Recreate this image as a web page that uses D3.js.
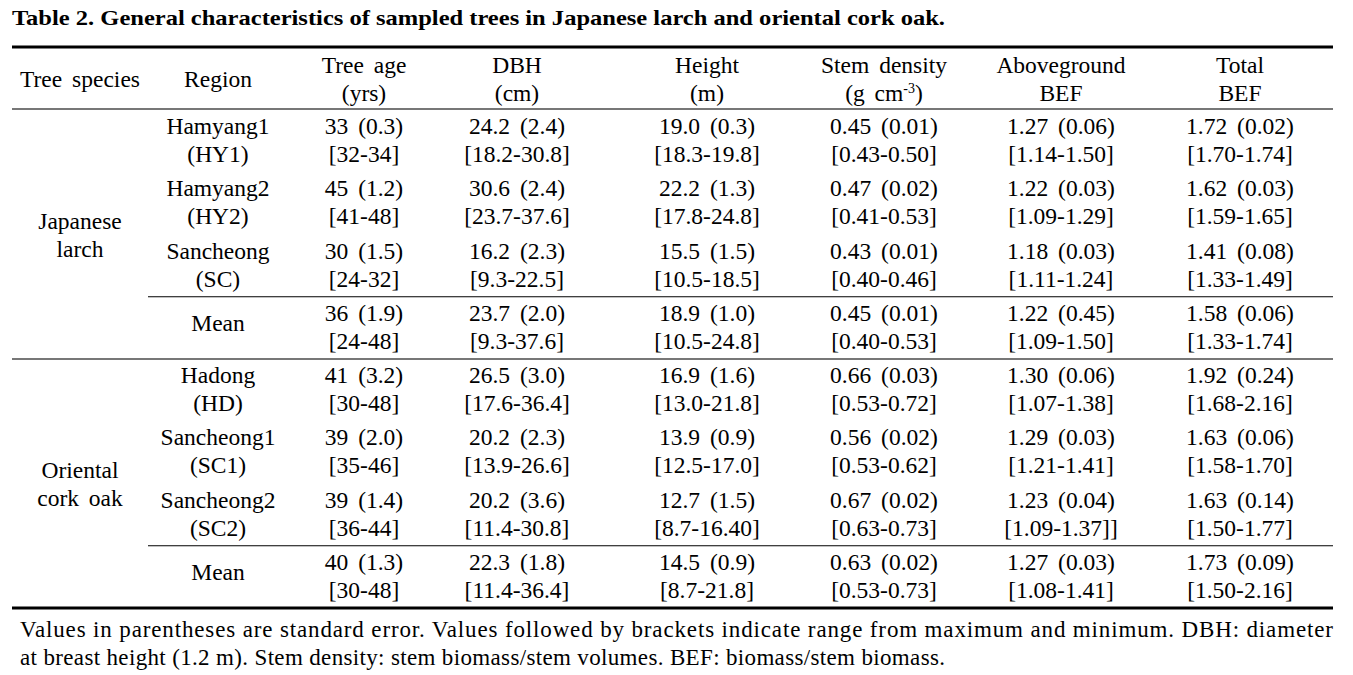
<!doctype html>
<html lang="en">
<head>
  <meta charset="utf-8">
  <title>Table 2</title>
  <script src="https://d3js.org/d3.v7.min.js"></script>
  <style>
    body { margin: 0; background: #fff; }
    svg text { font-family: "Liberation Serif", "Times New Roman", serif; fill: #000; }
  </style>
</head>
<body>
  <div id="table"></div>
  <script type="text/javascript">
	// table content
	var title = "Table 2. General characteristics of sampled trees in Japanese larch and oriental cork oak.";
	var headers = [["Tree species"], ["Region"], ["Tree age", "(yrs)"], ["DBH", "(cm)"], ["Height", "(m)"],
				   ["Stem density", "(g cm^-3^)"], ["Aboveground", "BEF"], ["Total", "BEF"]];
	var species = [["Japanese", "larch"], ["Oriental", "cork oak"]];
	var regions = [["Hamyang1", "(HY1)"], ["Hamyang2", "(HY2)"], ["Sancheong", "(SC)"], ["Mean"],
				   ["Hadong", "(HD)"], ["Sancheong1", "(SC1)"], ["Sancheong2", "(SC2)"], ["Mean"]];
	var treeAge = [["33 (0.3)", "[32-34]"], ["45 (1.2)", "[41-48]"], ["30 (1.5)", "[24-32]"], ["36 (1.9)", "[24-48]"],
				   ["41 (3.2)", "[30-48]"], ["39 (2.0)", "[35-46]"], ["39 (1.4)", "[36-44]"], ["40 (1.3)", "[30-48]"]];
	var dbh = [["24.2 (2.4)", "[18.2-30.8]"], ["30.6 (2.4)", "[23.7-37.6]"], ["16.2 (2.3)", "[9.3-22.5]"], ["23.7 (2.0)", "[9.3-37.6]"],
			   ["26.5 (3.0)", "[17.6-36.4]"], ["20.2 (2.3)", "[13.9-26.6]"], ["20.2 (3.6)", "[11.4-30.8]"], ["22.3 (1.8)", "[11.4-36.4]"]];
	var treeHeight = [["19.0 (0.3)", "[18.3-19.8]"], ["22.2 (1.3)", "[17.8-24.8]"], ["15.5 (1.5)", "[10.5-18.5]"], ["18.9 (1.0)", "[10.5-24.8]"],
					  ["16.9 (1.6)", "[13.0-21.8]"], ["13.9 (0.9)", "[12.5-17.0]"], ["12.7 (1.5)", "[8.7-16.40]"], ["14.5 (0.9)", "[8.7-21.8]"]];
	var stemDensity = [["0.45 (0.01)", "[0.43-0.50]"], ["0.47 (0.02)", "[0.41-0.53]"], ["0.43 (0.01)", "[0.40-0.46]"], ["0.45 (0.01)", "[0.40-0.53]"],
					   ["0.66 (0.03)", "[0.53-0.72]"], ["0.56 (0.02)", "[0.53-0.62]"], ["0.67 (0.02)", "[0.63-0.73]"], ["0.63 (0.02)", "[0.53-0.73]"]];
	var aboveBEF = [["1.27 (0.06)", "[1.14-1.50]"], ["1.22 (0.03)", "[1.09-1.29]"], ["1.18 (0.03)", "[1.11-1.24]"], ["1.22 (0.45)", "[1.09-1.50]"],
					["1.30 (0.06)", "[1.07-1.38]"], ["1.29 (0.03)", "[1.21-1.41]"], ["1.23 (0.04)", "[1.09-1.37]]"], ["1.27 (0.03)", "[1.08-1.41]"]];
	var totalBEF = [["1.72 (0.02)", "[1.70-1.74]"], ["1.62 (0.03)", "[1.59-1.65]"], ["1.41 (0.08)", "[1.33-1.49]"], ["1.58 (0.06)", "[1.33-1.74]"],
					["1.92 (0.24)", "[1.68-2.16]"], ["1.63 (0.06)", "[1.58-1.70]"], ["1.63 (0.14)", "[1.50-1.77]"], ["1.73 (0.09)", "[1.50-2.16]"]];
	var notes = ["Values in parentheses are standard error. Values followed by brackets indicate range from maximum and minimum. DBH: diameter",
				 "at breast height (1.2 m). Stem density: stem biomass/stem volumes. BEF: biomass/stem biomass."];

	var width = 1353, height = 675;
	var left = 12, right = 1333;
	var fontSize = 23.5;

	var svg = d3.select('#table')
				.append('svg')
				.attr('width', width)
				.attr('height', height);

	// column centres
	var col = d3.scaleOrdinal()
				.domain(d3.range(headers.length))
				.range([80, 218, 364, 517, 707, 884, 1061, 1240]);

	// one band per region row
	var row = d3.scaleBand()
				.domain(d3.range(regions.length))
				.range([110, 608]);

	var lineGap = 28;

	// writes one centred cell, one tspan per line; ^..^ marks a superscript
	function cell(x, y0, lines) {
		var t = svg.append('text')
					.attr('text-anchor', 'middle')
					.style('font-size', fontSize + 'px')
					.style('word-spacing', '4px');
		lines.forEach(function(s, i) {
			var parts = s.split('^');
			parts.forEach(function(p, j) {
				var ts = t.append('tspan').text(p);
				if (j == 0) ts.attr('x', x).attr('y', y0 + i * lineGap);
				if (j % 2 == 1) ts.attr('dy', -8).style('font-size', '14px');
				if (j > 0 && j % 2 == 0) ts.attr('dy', 8);
			});
		});
	}

	// title
	svg.append('text')
		.attr('x', left)
		.attr('y', 25)
		.attr('textLength', 933)
		.attr('lengthAdjust', 'spacingAndGlyphs')
		.style('font-size', '22px')
		.style('font-weight', 'bold')
		.text(title);

	// rules
	function rule(y, x1, w, c) {
		svg.append('line')
			.attr('x1', x1).attr('x2', right)
			.attr('y1', y).attr('y2', y)
			.attr('stroke', c)
			.attr('stroke-width', w);
	}
	rule(47, left, 3, '#000');
	rule(row(0) - 1, left, 2, '#777');
	rule(row(3), 148, 1.2, '#000');
	rule(row(4), left, 2, '#777');
	rule(row(7), 148, 1.2, '#000');
	rule(row(7) + row.bandwidth(), left, 3, '#000');

	// header
	headers.forEach(function(h, i) {
		cell(col(i), h.length == 1 ? 87 : 73, h);
	});

	// species, centred over their four rows
	species.forEach(function(s, i) {
		var top = row(i * 4), bottom = row(i * 4 + 3) + row.bandwidth();
		cell(col(0), (top + bottom) / 2 - 6, s);
	});

	// body cells
	var columns = [regions, treeAge, dbh, treeHeight, stemDensity, aboveBEF, totalBEF];
	columns.forEach(function(c, ci) {
		c.forEach(function(lines, ri) {
			var y0 = row(ri) + 24;
			if (lines.length == 1) y0 += lineGap / 2 - 4;
			cell(col(ci + 1), y0, lines);
		});
	});

	// notes under the table
	svg.append('text')
		.attr('x', 20).attr('y', 637)
		.attr('textLength', right - 20)
		.attr('lengthAdjust', 'spacing')
		.style('font-size', '23px')
		.text(notes[0]);
	svg.append('text')
		.attr('x', 20).attr('y', 665)
		.attr('textLength', 925)
		.attr('lengthAdjust', 'spacing')
		.style('font-size', '23px')
		.text(notes[1]);
  </script>
</body>
</html>
